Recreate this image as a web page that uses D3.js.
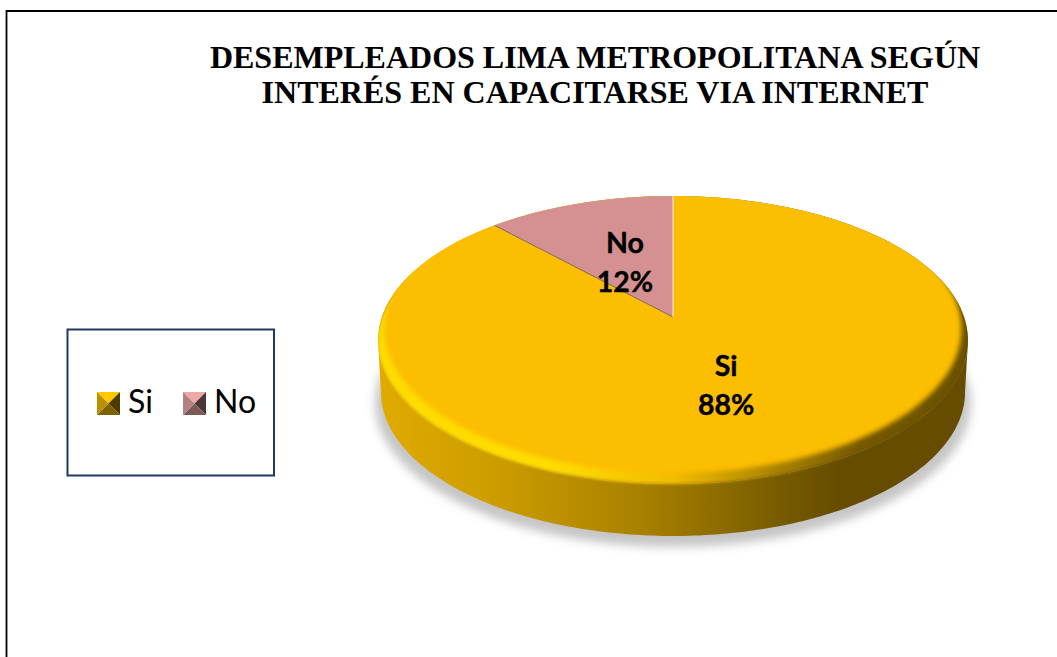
<!DOCTYPE html>
<html>
<head>
<meta charset="utf-8">
<script src="https://cdn.jsdelivr.net/npm/d3@7"></script>
<style>
html, body { margin: 0; padding: 0; background: #fff; overflow: hidden; }
svg { display: block; }
</style>
</head>
<body>
<script>
// chart data
const categories = ["Si", "No"];
const values = [88, 12];
const titleLines = ["DESEMPLEADOS LIMA METROPOLITANA SEGÚN", "INTERÉS EN CAPACITARSE VIA INTERNET"];

const faceColors = ["#fbbe00", "#d59191"];
const width = 1057;
const height = 657;

const svg = d3.select("body").append("svg")
    .attr("width", width)
    .attr("height", height);
const defs = svg.append("defs");

// outer frame, open on the right and at the bottom
svg.append("path")
    .attr("d", d3.line()([[6.5, height], [6.5, 11], [width, 11]]))
    .attr("fill", "none")
    .attr("stroke", "#000")
    .attr("stroke-width", 1.8);

svg.append("g").selectAll("text")
    .data(titleLines)
    .join("text")
    .attr("x", 595)
    .attr("y", (d, i) => 68 + i * 35)
    .attr("text-anchor", "middle")
    .attr("font-family", "'Liberation Serif', serif")
    .attr("font-weight", "bold")
    .attr("font-size", 32)
    .attr("fill", "#000")
    .text(d => d);

// the pie is seen in perspective, so the centre sits above the middle of the ellipse
const persp = -0.1597;
const project = (angle, r = 1, dx = 0, dy = 0, sx = 1) => {
    const x = Math.sin(angle) * r;
    const y = -Math.cos(angle) * r;
    const w = 1 + persp * y;
    return [673 + dx + sx * 291.2 * x / w, dy + (317 + 89.7 * y) / w];
};
const arcPoints = (a0, a1, r, dx, dy, sx) => d3.range(0, 181)
    .map(i => project(a0 + (a1 - a0) * i / 180, r, dx, dy, sx));
const line = d3.line();
const fullRing = (r, dx, dy, sx) => line(arcPoints(0, 2 * Math.PI, r, dx, dy, sx)) + "Z";

const pie = d3.pie().sort(null).value(d => d);
const slices = pie(values);

// blur filters
const addBlur = (id, s) => defs.append("filter")
    .attr("id", id)
    .attr("x", "-10%").attr("y", "-10%")
    .attr("width", "120%").attr("height", "120%")
    .append("feGaussianBlur").attr("stdDeviation", s);
addBlur("soft", 5);
addBlur("edge", 2.5);
addBlur("rimEdge", 1.5);

// horizontal gradients of the wall and of the rim
const addGrad = (id, stops) => {
    const g = defs.append("linearGradient")
        .attr("id", id)
        .attr("gradientUnits", "userSpaceOnUse")
        .attr("x1", 378).attr("x2", 968)
        .attr("y1", 0).attr("y2", 0);
    stops.forEach(s => g.append("stop").attr("offset", s[0]).attr("stop-color", s[1]));
};
addGrad("wall", [[0, "#e0ab00"], [0.2, "#cc9c00"], [0.45, "#a88000"], [0.62, "#846500"], [0.78, "#654c00"], [1, "#654c00"]]);
addGrad("rim", [[0, "#ffdc00"], [0.3, "#ffdc00"], [0.5, "#f2bc00"], [0.68, "#a88000"], [0.82, "#745800"], [1, "#6a5000"]]);

// shadow under the pie
svg.append("path")
    .attr("d", fullRing(1, 0, 63, 1.01))
    .attr("fill", "#b8b8b8")
    .attr("opacity", 0.8)
    .attr("filter", "url(#soft)");

// wall: from the widest points of the ellipse down to the bottom ellipse
const widest = Math.acos(persp);
const wallTop = arcPoints(widest, 2 * Math.PI - widest, 1, 0, 0, 1);
const wallBottom = arcPoints(widest, 2 * Math.PI - widest, 1, 0, 52, 0.99).reverse();
svg.append("path")
    .attr("d", line(wallTop.concat(wallBottom)) + "Z")
    .attr("fill", "url(#wall)");
// same colour under the face so the blurred rim has nothing pale behind it
svg.append("path")
    .attr("d", fullRing(1, 0, 0, 1))
    .attr("fill", "url(#wall)");

// rim of the top face, then the flat face shifted up so the bevel shows below
defs.append("clipPath").attr("id", "faceClip")
    .append("path").attr("d", fullRing(1, 0, 0, 1));
defs.append("clipPath").attr("id", "rimClip")
    .append("path").attr("d", fullRing(1, 0, 3, 1));
svg.append("g").attr("clip-path", "url(#rimClip)")
    .append("path")
    .attr("d", fullRing(1, 0, 0, 1))
    .attr("fill", "url(#rim)")
    .attr("filter", "url(#rimEdge)");

const face = svg.append("g").attr("clip-path", "url(#faceClip)");
face.append("path")
    .attr("d", fullRing(1, 0, -11, 0.978))
    .attr("fill", faceColors[0])
    .attr("filter", "url(#edge)");

// slices from the pie layout, the big one is already in the face colour
const slicePath = d => line([project(0, 0)].concat(arcPoints(d.startAngle, d.endAngle, 1, 0, 0, 1))) + "Z";
svg.append("g").selectAll("path")
    .data(slices)
    .join("path")
    .attr("d", slicePath)
    .attr("fill", (d, i) => i === 0 ? "none" : faceColors[i]);

// thin edges of the small slice
const noSlice = slices[1];
svg.append("path")
    .attr("d", line([project(noSlice.startAngle, 1), project(0, 0)]))
    .attr("fill", "none")
    .attr("stroke", "#6e5560")
    .attr("stroke-width", 0.8);
svg.append("path")
    .attr("d", line([project(0, 0), project(noSlice.endAngle, 1)]))
    .attr("fill", "none")
    .attr("stroke", "#f3dede")
    .attr("stroke-width", 1.2);

// data labels
const labelFont = "Lato, 'Noto Sans', sans-serif";
const labels = svg.append("g").selectAll("g")
    .data(slices)
    .join("g")
    .attr("transform", d => {
        const p = project((d.startAngle + d.endAngle) / 2, 0.47);
        return `translate(${p[0]},${p[1]})`;
    })
    .attr("font-family", labelFont)
    .attr("font-weight", "bold")
    .attr("font-size", 28.5)
    .attr("text-anchor", "middle")
    .attr("fill", "#000")
    .attr("stroke", "#000")
    .attr("stroke-width", 0.4);
labels.append("text").attr("x", -1).attr("y", -7).text((d, i) => categories[i]);
labels.append("text").attr("x", -1).attr("y", 32).text(d => d.value + "%");

// legend
svg.append("rect")
    .attr("x", 67.5).attr("y", 329.5)
    .attr("width", 206.5).attr("height", 146)
    .attr("fill", "#fff")
    .attr("stroke", "#1f3864")
    .attr("stroke-width", 2);

const swatchColors = [
    { top: "#ffc800", left: "#b89000", right: "#4f3b00", bottom: "#7f6200" },
    { top: "#eda8a8", left: "#b58080", right: "#4d3636", bottom: "#7d5a5a" }
];
const legendX = d3.scaleOrdinal().domain(categories).range([97, 183]);
const swatch = 23;
const legendItem = svg.append("g").selectAll("g")
    .data(categories)
    .join("g")
    .attr("transform", d => `translate(${legendX(d)},392)`);
["top", "right", "bottom", "left"].forEach((side, k) => {
    const c = [[0, 0], [swatch, 0], [swatch, swatch], [0, swatch]];
    legendItem.append("path")
        .attr("d", line([c[k], c[(k + 1) % 4], [swatch / 2, swatch / 2]]) + "Z")
        .attr("fill", (d, i) => swatchColors[i][side]);
});
legendItem.append("text")
    .attr("x", 31)
    .attr("y", 21)
    .attr("font-family", labelFont)
    .attr("font-size", 32)
    .attr("fill", "#000")
    .text(d => d);
</script>
</body>
</html>
